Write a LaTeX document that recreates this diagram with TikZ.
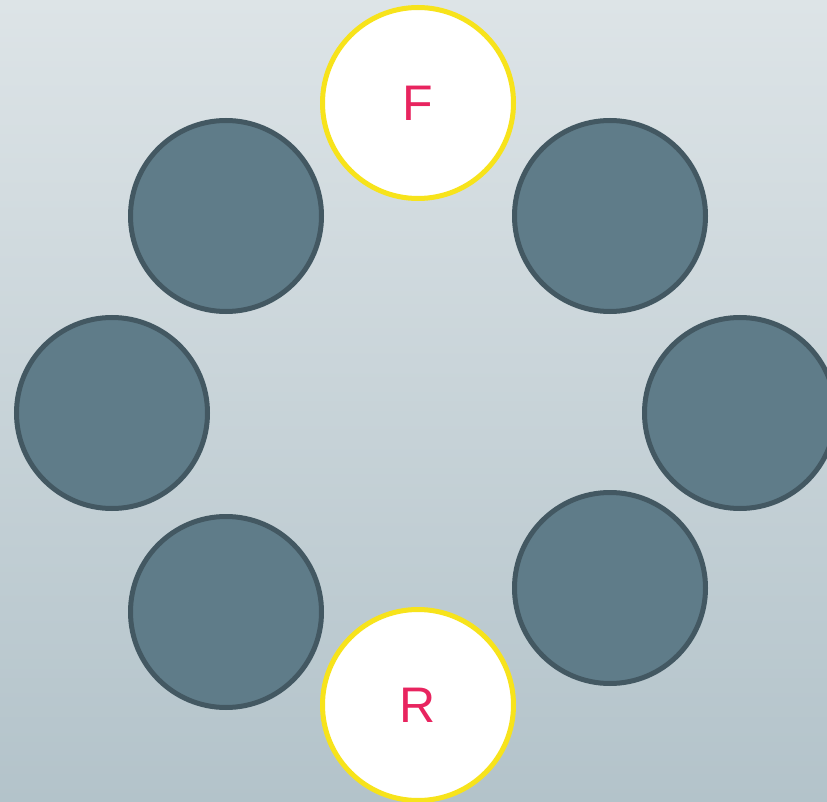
\documentclass[tikz,border=0pt]{standalone}
\usepackage{fontspec}
\setmainfont{Liberation Sans}
\usepackage{tikz}
\usetikzlibrary{positioning}

\definecolor{bgtop}{HTML}{DDE4E7}
\definecolor{bgbot}{HTML}{B3C3CA}
\definecolor{slatefill}{HTML}{5F7C89}
\definecolor{slateline}{HTML}{435862}
\definecolor{ringyellow}{HTML}{F7E31B}
\definecolor{letterpink}{HTML}{E8245F}

\begin{document}
\begin{tikzpicture}[
  x=1pt, y=-1pt,
  seat/.style={circle, draw=slateline, fill=slatefill, line width=5pt,
               minimum size=191pt, inner sep=0pt},
  endseat/.style={circle, draw=ringyellow, fill=white, line width=5pt,
                  minimum size=191pt, inner sep=0pt, text=letterpink,
                  font=\fontsize{50}{50}\selectfont}
]

% background
\shade[top color=bgtop, bottom color=bgbot] (0,0) rectangle (827,802);
\useasboundingbox (0,0) rectangle (827,802);

\begin{scope}
\clip (0,0) rectangle (827,802);
\node[endseat] (front) at (418,103) {F};
\node[seat] (topleft) at (226,216) {};
\node[seat] (topright) at (610,216) {};
\node[seat] (left) at (112,413) {};
\node[seat] (right) at (740,413) {};
\node[seat] (bottomleft) at (226,612) {};
\node[seat] (bottomright) at (610,588) {};
\node[endseat] (rear) at (418,705) {R};
\end{scope}

\end{tikzpicture}
\end{document}
